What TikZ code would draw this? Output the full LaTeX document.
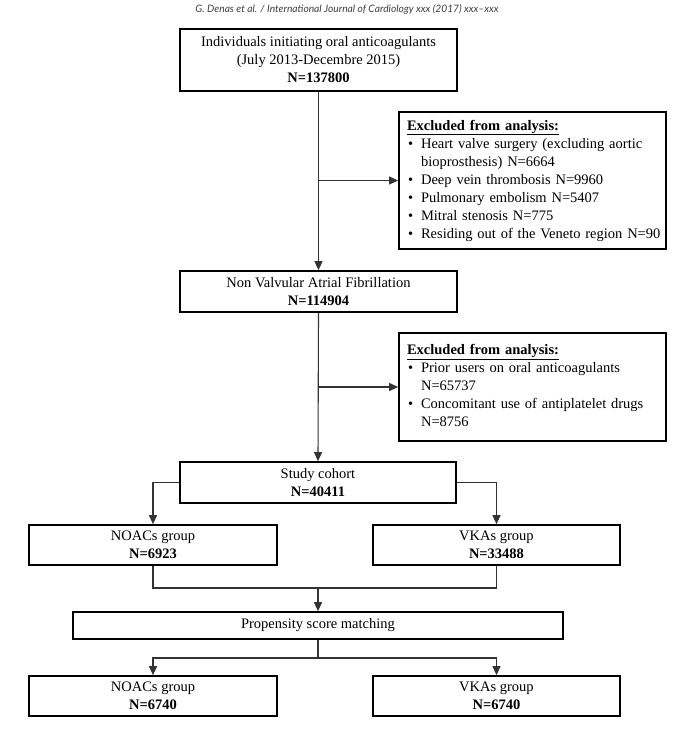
\documentclass[tikz,border=0pt]{standalone}
\usepackage{fontspec}
\usepackage{graphicx}
\setmainfont{Liberation Serif}
\newfontfamily\hdrfont{Lato}
\usetikzlibrary{arrows.meta}
\newcommand{\bodyfs}{\fontsize{14.5}{18}\selectfont}
\tikzset{
  box/.style={draw=black, line width=1.7pt, align=center, inner sep=0pt, font=\bodyfs},
  exbox/.style={draw=black, line width=1.7pt, align=left, inner xsep=8pt, inner ysep=0pt, font=\bodyfs, text width=251pt},
  conn/.style={draw=black!80, line width=1.1pt},
  arr/.style={conn, -{Triangle[length=9pt,width=8pt]}},
}
\begin{document}
\begin{tikzpicture}[x=1pt,y=-1pt]
\useasboundingbox[fill=white] (0,0) rectangle (682,732);
\node[text=black!75, font=\hdrfont\itshape] (hdr) at (347,9) {\resizebox{303pt}{!}{G. Denas et al. / International Journal of Cardiology xxx (2017) xxx–xxx}};

\node[box, minimum width=277pt, minimum height=62pt] (b1) at (318.5,60) {Individuals initiating oral anticoagulants\\(July 2013-Decembre 2015)\\\textbf{N=137800}};
\node[exbox, minimum height=137pt] (e1) at (532.5,180.5) {%
\begin{tabular}{@{\hspace{1pt}}l@{\hspace{8pt}}l@{}}
\multicolumn{2}{@{}l}{\textbf{\underline{Excluded from analysis:}}}\\
\textbullet & Heart valve surgery (excluding aortic\\
 & bioprosthesis) N=6664\\
\textbullet & Deep vein thrombosis N=9960\\
\textbullet & Pulmonary embolism N=5407\\
\textbullet & Mitral stenosis N=775\\
\textbullet & Residing out of the Veneto region N=90
\end{tabular}};
\node[box, minimum width=277pt, minimum height=41pt] (b2) at (318.5,291.5) {Non Valvular Atrial Fibrillation\\\textbf{N=114904}};
\node[exbox, minimum height=108pt] (e2) at (532.5,387) {%
\begin{tabular}{@{\hspace{1pt}}l@{\hspace{8pt}}l@{}}
\multicolumn{2}{@{}l}{\textbf{\underline{Excluded from analysis:}}}\\
\textbullet & Prior users on oral anticoagulants\\
 & N=65737\\
\textbullet & Concomitant use of antiplatelet drugs\\
 & N=8756
\end{tabular}};
\node[box, minimum width=276pt, minimum height=41pt] (sc) at (318,482.5) {Study cohort\\\textbf{N=40411}};
\node[box, minimum width=248pt, minimum height=40pt] (n1) at (153,545) {NOACs group\\\textbf{N=6923}};
\node[box, minimum width=247pt, minimum height=40pt] (v1) at (496.5,545) {VKAs group\\\textbf{N=33488}};
\node[box, minimum width=490pt, minimum height=27pt] (ps) at (318,625.5) {Propensity score matching};
\node[box, minimum width=248pt, minimum height=40pt] (n2) at (153,696) {NOACs group\\\textbf{N=6740}};
\node[box, minimum width=247pt, minimum height=40pt] (v2) at (496.5,696) {VKAs group\\\textbf{N=6740}};

\coordinate (j1) at (b1.south |- e1.west);
\coordinate (j2) at (b2.south |- e2.west);
\coordinate (m) at (ps.north |- 0,588);
\coordinate (s) at (ps.south |- 0,658);

\draw[arr] (b1.south) -- (b2.north);
\draw[arr] (j1) -- (e1.west);
\draw[arr] (b2.south) -- (sc.north);
\draw[arr] (j2) -- (e2.west);
\draw[arr] (sc.west) -| (n1.north);
\draw[arr] (sc.east) -| (v1.north);
\draw[conn] (n1.south) |- (m) -| (v1.south);
\draw[arr] (m) -- (ps.north);
\draw[conn] (ps.south) -- (s);
\draw[arr] (s) -| (n2.north);
\draw[arr] (s) -| (v2.north);
\end{tikzpicture}
\end{document}
